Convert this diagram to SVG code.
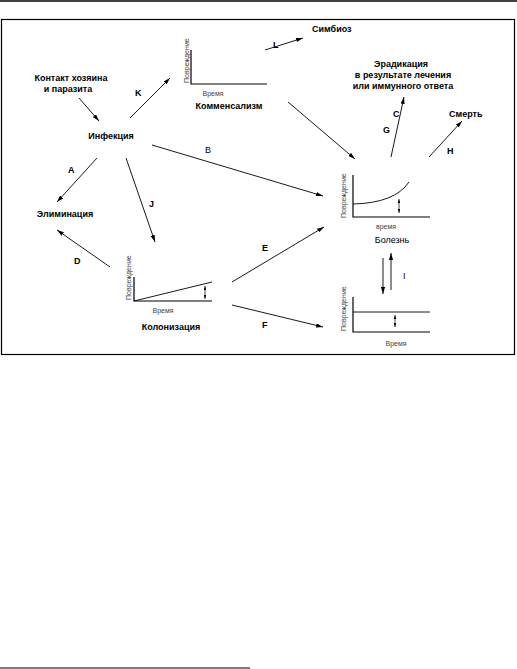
<svg xmlns="http://www.w3.org/2000/svg" width="517" height="669" viewBox="0 0 517 669">
<style>
.t{font-family:"Liberation Sans",Arial,sans-serif;font-size:9px;font-weight:bold;fill:#000}
.l{font-family:"Liberation Sans",Arial,sans-serif;font-size:9px;font-weight:bold;fill:#000}
.n{font-weight:normal}
.s{font-family:"Liberation Sans",Arial,sans-serif;font-size:7px;fill:#444}
.ax{stroke:#000;stroke-width:1.2;fill:none}
.c{stroke:#000;stroke-width:0.9;fill:none}
.a{stroke:#000;stroke-width:0.9;fill:none;marker-end:url(#ah)}
.d{stroke:#000;stroke-width:0.7;fill:none;marker-end:url(#sh);marker-start:url(#sh)}
</style>
<defs>
<marker id="ah" viewBox="0 0 10 6" refX="10" refY="3" markerWidth="7" markerHeight="4.2" markerUnits="userSpaceOnUse" orient="auto"><path d="M0,0 L10,3 L0,6 Z" fill="#000"/></marker>
<marker id="sh" viewBox="0 0 10 6" refX="10" refY="3" markerWidth="4" markerHeight="2.4" markerUnits="userSpaceOnUse" orient="auto-start-reverse"><path d="M0,0 L10,3 L0,6 Z" fill="#000"/></marker>
</defs>
<rect width="517" height="669" fill="#fff"/>
<line x1="0" y1="1" x2="517" y2="1" stroke="#000" stroke-width="1.5"/>
<rect x="1.5" y="19.5" width="513" height="335" fill="none" stroke="#000" stroke-width="1.2"/>
<line x1="0" y1="668" x2="250" y2="668" stroke="#000" stroke-width="1.2"/>

<g id="connectors">
<line class="a" x1="79" y1="98" x2="99" y2="121"/>
<line class="a" x1="130" y1="118" x2="170" y2="78"/>
<line class="a" x1="265" y1="50" x2="303" y2="38"/>
<line class="a" x1="152" y1="145" x2="323" y2="196"/>
<line class="a" x1="97" y1="158" x2="57" y2="202"/>
<line class="a" x1="126" y1="158" x2="155" y2="242"/>
<line class="a" x1="110" y1="267" x2="57" y2="230"/>
<line class="a" x1="232" y1="282" x2="324" y2="227"/>
<line class="a" x1="232" y1="305" x2="323" y2="327"/>
<line class="a" x1="288" y1="102" x2="355" y2="159"/>
<line class="a" x1="391" y1="157" x2="404" y2="97"/>
<line class="a" x1="429" y1="157" x2="462" y2="121"/>
<line class="a" x1="383" y1="258" x2="383" y2="294"/>
<line class="a" x1="391" y1="290" x2="391" y2="253"/>
<text class="l" x="135" y="96">K</text>
<text class="l" x="273" y="48">L</text>
<text class="l n" x="205" y="153">B</text>
<text class="l" x="68" y="173">A</text>
<text class="l" x="149" y="207">J</text>
<text class="l" x="74" y="264">D</text>
<text class="l" x="262" y="251">E</text>
<text class="l" x="262" y="328">F</text>
<text class="l" x="393" y="117">C</text>
<text class="l" x="383" y="133">G</text>
<text class="l" x="447" y="154">H</text>
<text class="l n" x="403" y="279">I</text>
</g>

<g id="contact">
<text class="t" x="71" y="81" text-anchor="middle">Контакт хозяина</text>
<text class="t" x="68" y="92" text-anchor="middle">и паразита</text>
</g>
<g id="infection"><text class="t" x="111" y="139" text-anchor="middle">Инфекция</text></g>
<g id="elimination"><text class="t" x="65" y="217" text-anchor="middle">Элиминация</text></g>
<g id="symbiosis"><text class="t" x="312" y="32">Симбиоз</text></g>
<g id="eradication">
<text class="t" x="401" y="67" text-anchor="middle">Эрадикация</text>
<text class="t" x="403" y="78" text-anchor="middle">в результате лечения</text>
<text class="t" x="403" y="89" text-anchor="middle">или иммунного ответа</text>
</g>
<g id="death"><text class="t" x="449" y="117">Смерть</text></g>

<g id="commensalism">
<polyline class="ax" points="191,50 191,84 267,84"/>
<text class="s" transform="translate(189,83) rotate(-90)">Повреждение</text>
<text class="s" x="213" y="96" text-anchor="middle">Время</text>
<text class="t" x="229" y="109" text-anchor="middle">Комменсализм</text>
</g>

<g id="colonization">
<polyline class="ax" points="134,277 134,301 212,301"/>
<line class="c" x1="134" y1="301" x2="212" y2="282"/>
<line class="d" x1="205" y1="286" x2="205" y2="299"/>
<text class="s" transform="translate(131,300) rotate(-90)">Повреждение</text>
<text class="s" x="163" y="313" text-anchor="middle">Время</text>
<text class="t" x="171" y="330" text-anchor="middle">Колонизация</text>
</g>

<g id="disease">
<polyline class="ax" points="353,175 353,217 430,217"/>
<path class="c" d="M353,204 Q395,203 409,182"/>
<line class="d" x1="399" y1="199" x2="399" y2="213"/>
<text class="s" transform="translate(346,218) rotate(-90)">Повреждение</text>
<text class="s" x="386" y="229" text-anchor="middle">время</text>
<text class="t n" x="392" y="243" text-anchor="middle" font-size="10">Болезнь</text>
</g>

<g id="latent">
<polyline class="ax" points="353,297 353,332 430,332"/>
<line class="c" x1="353" y1="312" x2="430" y2="312"/>
<line class="d" x1="395" y1="315" x2="395" y2="327"/>
<text class="s" transform="translate(346,331) rotate(-90)">Повреждение</text>
<text class="s" x="396" y="346" text-anchor="middle">Время</text>
</g>
</svg>
